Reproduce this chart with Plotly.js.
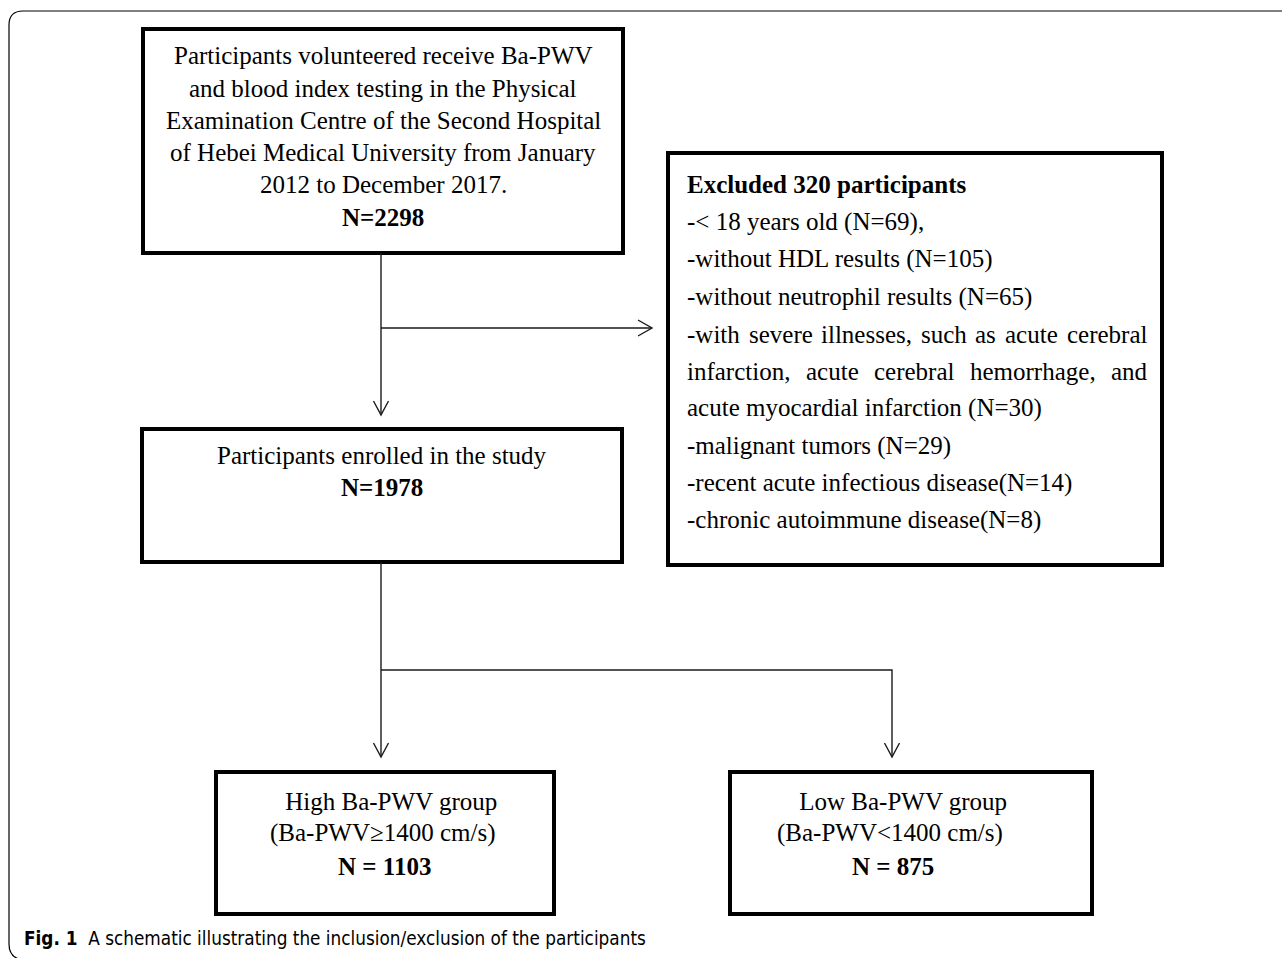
<!DOCTYPE html>
<html>
<head>
<meta charset="utf-8">
<script src="https://cdn.plot.ly/plotly-3.0.1.min.js"></script>
<style>
  html, body { margin: 0; padding: 0; background: #fff; }
  #chart { width: 1282px; height: 958px; }
</style>
</head>
<body>
<div id="chart"></div>
<script>
// ---------------- DATA ----------------
const totalN = 2298;
const enrolledN = 1978;
const excludedN = 320;
const highN = 1103;
const lowN = 875;
const cutoff = 1400;
const exclusionCounts = [69, 105, 65, 30, 29, 14, 8];
const sourceLines = [
  'Participants volunteered receive Ba-PWV',
  'and blood index testing in the Physical',
  'Examination Centre of the Second Hospital',
  'of Hebei Medical University from January',
  '2012 to December 2017.'
];
const enrolledLabel = 'Participants enrolled in the study';
const highLabel = 'High Ba-PWV group';
const lowLabel = 'Low Ba-PWV group';
const captionBold = 'Fig. 1';
const captionText = 'A schematic illustrating the inclusion/exclusion of the participants';

// ---------------- LAYOUT HELPERS ----------------
const SERIF = '"Liberation Serif", "Times New Roman", Times, serif';
const FS = 25;
const annotations = [];
const shapes = [];

function txt(text, x, y, opts) {
  opts = opts || {};
  annotations.push({
    xref: 'x', yref: 'y', x: x, y: y, text: text, showarrow: false,
    xanchor: opts.anchor || 'center', yanchor: 'middle',
    font: { family: opts.family || SERIF, size: opts.size || FS, color: '#000' }
  });
}
function box(x0, y0, x1, y1) {
  shapes.push({ type: 'rect', xref: 'x', yref: 'y', x0: x0, y0: y0, x1: x1, y1: y1,
    line: { color: '#000', width: 4 }, fillcolor: 'rgba(0,0,0,0)' });
}
function seg(path) {
  shapes.push({ type: 'path', xref: 'x', yref: 'y', path: path,
    line: { color: '#1a1a1a', width: 1.4 }, fillcolor: 'rgba(0,0,0,0)' });
}
function vArrowDown(x, y) { seg(`M${x-7.5},${y-14} L${x},${y} L${x+7.5},${y-14}`); }
function vArrowRight(x, y) { seg(`M${x-14},${y-8} L${x},${y} L${x-14},${y+8}`); }

const ctx = document.createElement('canvas').getContext('2d');
ctx.font = FS + 'px "Liberation Serif"';
function justify(line, y, x0, x1) {
  const words = line.split(' ');
  const widths = words.map(w => ctx.measureText(w).width);
  const total = widths.reduce((a, b) => a + b, 0);
  const gap = (x1 - x0 - total) / (words.length - 1);
  let x = x0;
  words.forEach((w, i) => { txt(w, x, y, { anchor: 'left' }); x += widths[i] + gap; });
}

// ---------------- BOXES ----------------
box(143, 29, 623, 253);   // source population
box(668, 153, 1162, 565); // exclusions
box(142, 429, 622, 562);  // enrolled
box(216, 772, 554, 914);  // high group
box(730, 772, 1092, 914); // low group

// ---------------- CONNECTORS ----------------
seg('M381,253 L381,415'); vArrowDown(381, 415);
seg('M381,328 L652,328'); vArrowRight(652, 328);
seg('M381,562 L381,757'); vArrowDown(381, 757);
seg('M381,670 L892,670 L892,757'); vArrowDown(892, 757);

// outer frame
shapes.push({ type: 'path', xref: 'x', yref: 'y',
  path: 'M1290,11 L23,11 Q9,11 9,25 L9,944 Q9,958 23,960',
  line: { color: '#000', width: 1.2 }, fillcolor: 'rgba(0,0,0,0)' });

// ---------------- TEXT ----------------
const srcY = [55, 88, 120, 152, 184];
sourceLines.forEach((l, i) => txt(l, 383, srcY[i]));
txt('<b>N=' + totalN + '</b>', 383, 217);

txt(enrolledLabel, 382, 455);
txt('<b>N=' + enrolledN + '</b>', 382, 487);

txt('\u00A0' + highLabel, 388, 801);
txt('(Ba-PWV\u2265' + cutoff + ' cm/s)', 383, 833);
txt('<b>N = ' + highN + '</b>', 384, 866);

txt('\u00A0' + lowLabel, 900, 801);
txt('(Ba-PWV&lt;' + cutoff + ' cm/s)', 890, 833);
txt('<b>N = ' + lowN + '</b>', 893, 866);

const exX = 685, exR = 1145;
const exY = [184, 222, 259, 297, 334, 371, 408, 446, 483, 520];
txt('<b>Excluded ' + excludedN + ' participants</b>', exX, exY[0], { anchor: 'left' });
txt('-&lt; 18 years old (N=' + exclusionCounts[0] + '),', exX, exY[1], { anchor: 'left' });
txt('-without HDL results (N=' + exclusionCounts[1] + ')', exX, exY[2], { anchor: 'left' });
txt('-without neutrophil results (N=' + exclusionCounts[2] + ')', exX, exY[3], { anchor: 'left' });
justify('-with severe illnesses, such as acute cerebral', exY[4], exX, exR);
justify('infarction, acute cerebral hemorrhage, and', exY[5], exX, exR);
txt('acute myocardial infarction (N=' + exclusionCounts[3] + ')', exX, exY[6], { anchor: 'left' });
txt('-malignant tumors (N=' + exclusionCounts[4] + ')', exX, exY[7], { anchor: 'left' });
txt('-recent acute infectious disease(N=' + exclusionCounts[5] + ')', exX, exY[8], { anchor: 'left' });
txt('-chronic autoimmune disease(N=' + exclusionCounts[6] + ')', exX, exY[9], { anchor: 'left' });

// caption
txt('<b>' + captionBold + '</b>\u00A0 ' + captionText, 22, 938,
  { anchor: 'left', family: '"DejaVu Sans Condensed", "Liberation Sans Narrow", Lato, sans-serif', size: 18.8 });

const layout = {
  width: 1282, height: 958,
  margin: { l: 0, r: 0, t: 0, b: 0, pad: 0 },
  paper_bgcolor: '#fff', plot_bgcolor: '#fff',
  xaxis: { range: [0, 1282], visible: false, fixedrange: true },
  yaxis: { range: [958, 0], visible: false, fixedrange: true },
  showlegend: false,
  shapes: shapes,
  annotations: annotations
};
Plotly.newPlot('chart', [], layout, { staticPlot: true, displayModeBar: false });
</script>
</body>
</html>
